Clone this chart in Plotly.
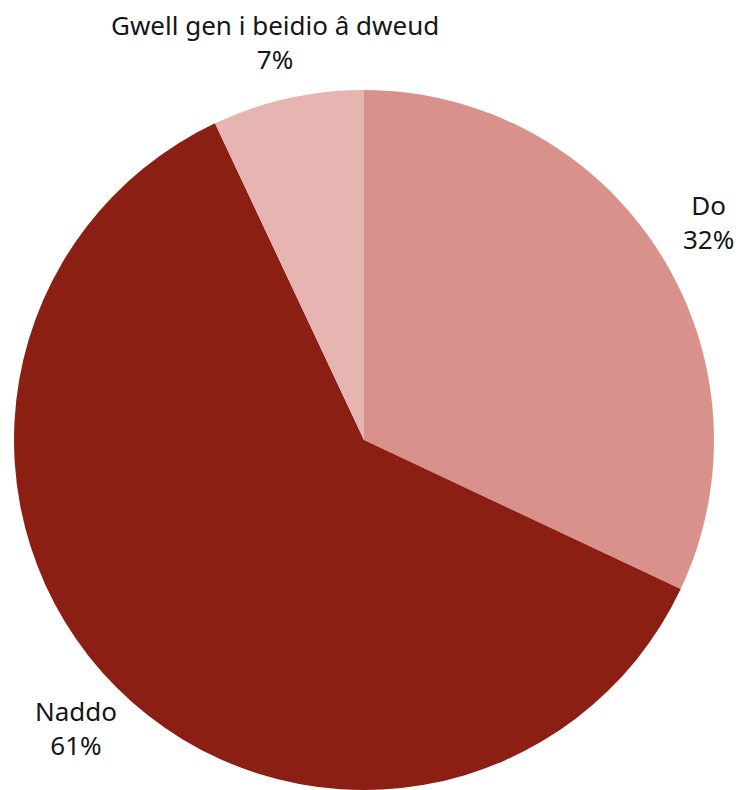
import math
import plotly.graph_objects as go

labels = ["Do", "Naddo", "Gwell gen i beidio â dweud"]
values = [32, 61, 7]
colors = ["#D8928B", "#8C1F14", "#E6B5B2"]

W, H = 740, 790
cx, cy, r = 364, 440, 350  # pixel layout of the pie
label_factor = 1.165

fig = go.Figure(go.Pie(
    labels=labels,
    values=values,
    sort=False,
    direction="clockwise",
    rotation=0,
    marker=dict(colors=colors, line=dict(width=0)),
    textinfo="none",
    hoverinfo="label+percent",
    showlegend=False,
    domain=dict(x=[(cx - r) / W, (cx + r) / W],
                y=[max(0, (H - cy - r) / H), min(1, (H - cy + r) / H)]),
))

total = sum(values)
cum = 0
annotations = []
for lab, v in zip(labels, values):
    mid = (cum + v / 2) / total * 2 * math.pi
    cum += v
    px = cx + r * label_factor * math.sin(mid)
    py = cy - r * label_factor * math.cos(mid)
    pct = round(100 * v / total)
    annotations.append(dict(
        x=px / W, y=1 - py / H, xref="paper", yref="paper",
        text=f"{lab}<br>{pct}%", showarrow=False,
        xanchor="center", yanchor="middle",
        font=dict(family="Noto Sans", size=26, color="#161616"),
        align="center",
    ))

fig.update_layout(
    width=W, height=H,
    margin=dict(l=0, r=0, t=0, b=0),
    paper_bgcolor="white",
    plot_bgcolor="white",
    annotations=annotations,
)

fig.write_html(
    "out.html",
    config={"displayModeBar": False},
    post_script="document.body.style.margin='0';document.body.style.overflow='hidden';",
)
